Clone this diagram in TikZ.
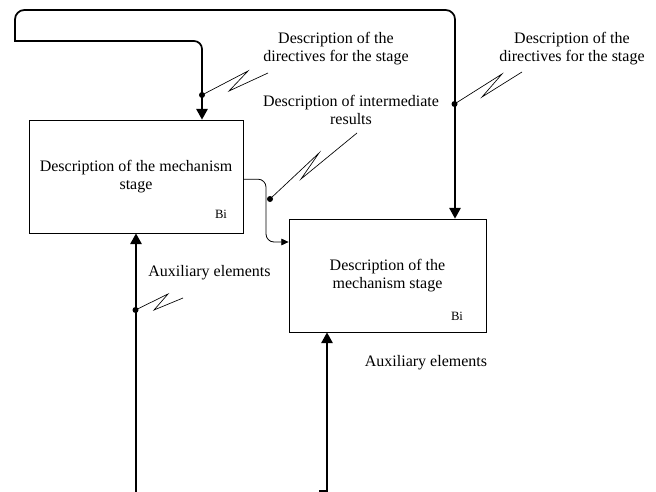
\documentclass[tikz,border=0pt]{standalone}
\usepackage{fontspec}
\setmainfont{Liberation Serif}
\usetikzlibrary{arrows.meta}

\begin{document}
\begin{tikzpicture}[x=0.75pt,y=-0.75pt,
		stage/.style={draw,line width=0.6pt,minimum height=84.75pt,align=center,inner sep=0pt},
		ctrl/.style={line width=1.3pt,-{Triangle[length=8pt,width=8.5pt]}},
		flow/.style={line width=0.6pt,-{Triangle[length=5.5pt,width=5pt]}},
		zig/.style={line width=0.5pt},
		dot/.style={circle,fill,inner sep=0pt,minimum size=4.5pt},
		lbl/.style={align=center,font=\fontsize{12}{14}\selectfont}]
			\useasboundingbox (0,0) rectangle (656,492);
			% Boxes
			\node[stage,minimum width=160.5pt,font=\fontsize{12}{13.5}\selectfont] (b1) at (136,176.5) {Description of the mechanism\\stage};
			\node[stage,minimum width=147.75pt,font=\fontsize{12}{13.5}\selectfont] (b2) at (387.5,275.5) {Description of the\\mechanism stage};
			\node[font=\fontsize{9.5}{11}\selectfont] (bi1) at (221,214) {Bi};
			\node[font=\fontsize{9.5}{11}\selectfont] (bi2) at (457,316) {Bi};
			% Directives
			\coordinate (l1) at (202,41);
			\coordinate (l0) at (15,41);
			\coordinate (r1) at (455,10);
			\draw[ctrl,{Triangle[length=8pt,width=8.5pt]}-{Triangle[length=8pt,width=8.5pt]}] (r1 |- b2.north) [rounded corners=7pt] -- (r1) -- (l0 |- r1) [sharp corners] -- (l0) [rounded corners=6pt] -- (l1) -- (l1 |- b1.north);
			% Intermediate results
			\coordinate (k1) at (266,242);
			\draw[flow,rounded corners=6pt] ([yshift=-2pt]b1.east) -| (k1) -- (k1 -| b2.west);
			% Auxiliary elements
			\coordinate (x1) at (136,492);
			\coordinate (x2) at (327,492);
			\coordinate (s2) at (319,491);
			\draw[ctrl] (x1) -- (b1.south);
			\draw[ctrl] (s2) -| (x2 |- b2.south);
			% Dots and squiggles
			\node[dot] (d1) at (202,95) {};
			\node[dot] (d2) at (454.5,104) {};
			\node[dot] (d3) at (270,199) {};
			\node[dot] (d4) at (135.5,310) {};
			\draw[zig] (d1.center) -- (248,71) -- (229,91) -- (268,73);
			\draw[zig] (d2.center) -- (502,74) -- (482,97) -- (522,72);
			\draw[zig] (d3.center) -- (319,153) -- (301,179) -- (357,133);
			\draw[zig] (d4.center) -- (168,294) -- (154,310) -- (183,298);
			% Labels
			\node[lbl] (t1) at (336,48.5) {Description of the\\directives for the stage};
			\node[lbl] (t2) at (572,48.5) {Description of the\\directives for the stage};
			\node[lbl] (t3) at (351,110) {Description of intermediate\\results};
			\node[lbl] (t4) at (209.5,273) {Auxiliary elements};
			\node[lbl] (t5) at (426,363) {Auxiliary elements};
		\end{tikzpicture}
\end{document}
